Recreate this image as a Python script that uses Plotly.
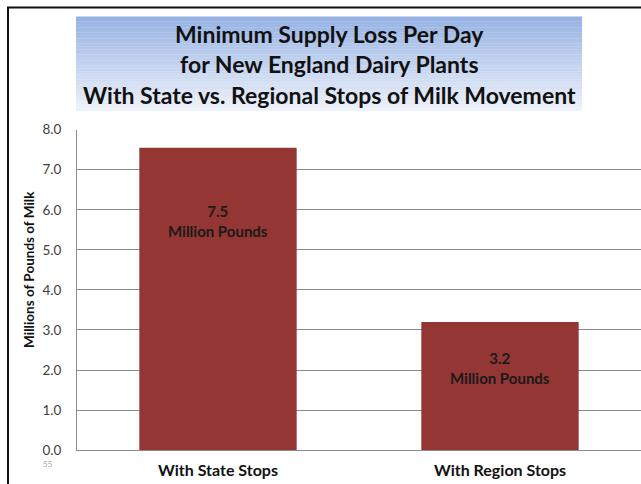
import plotly.graph_objects as go

categories = ["With State Stops", "With Region Stops"]
values = [7.55, 3.2]
value_labels = ["7.5", "3.2"]
label_unit = "Million Pounds"
label_y = [5.72, 2.05]
y_ticks = [0, 1, 2, 3, 4, 5, 6, 7, 8]
y_tick_text = ["0.0", "1.0", "2.0", "3.0", "4.0", "5.0", "6.0", "7.0", "8.0"]
title_lines = ["Minimum Supply Loss Per Day",
               "for New England Dairy Plants",
               "With State vs. Regional Stops of Milk Movement"]
y_title = "Millions of Pounds of Milk"
slide_no = "55"

W, H = 641, 484
FONT = "Lato"
# pixel -> paper (vertical mapping calibrated to the rendered page)
A_, B_ = 474.8, 467.3
px = lambda x: x / W
py = lambda y: (A_ - y) / B_

fig = go.Figure()
fig.add_trace(go.Bar(
    x=categories, y=values,
    marker=dict(color="#943634", line=dict(width=0)),
    hoverinfo="skip",
))

shapes = []
# gradient title box
top_c = (150, 178, 227)
bot_c = (236, 241, 250)
y0, y1 = 16, 110
N = 60
for i in range(N):
    t = i / (N - 1)
    c = tuple(int(round(top_c[k] + (bot_c[k] - top_c[k]) * t)) for k in range(3))
    ya = y0 + (y1 - y0) * i / N
    yb = y0 + (y1 - y0) * (i + 1) / N + 0.3
    shapes.append(dict(type="rect", xref="paper", yref="paper",
                       x0=px(76), x1=px(582), y0=py(ya), y1=py(yb),
                       fillcolor="rgb(%d,%d,%d)" % c, line=dict(width=0), layer="below"))
# slide border
shapes.append(dict(type="rect", xref="paper", yref="paper",
                   x0=px(8), x1=px(660), y0=py(7), y1=py(520),
                   fillcolor="rgba(0,0,0,0)", line=dict(color="#111111", width=2)))

annotations = []
title_y = [33, 63, 94]
for line, yy in zip(title_lines, title_y):
    annotations.append(dict(text="<b>%s</b>" % line, xref="paper", yref="paper",
                            x=px(329), y=py(yy), xanchor="center", yanchor="middle",
                            showarrow=False, font=dict(family=FONT, size=23, color="#111111")))
for cat, lab, ly in zip(categories, value_labels, label_y):
    annotations.append(dict(text="<b>%s<br>%s</b>" % (lab, label_unit), x=cat, y=ly,
                            xref="x", yref="y", showarrow=False, align="center",
                            font=dict(family=FONT, size=15, color="#1a1a1a")))
annotations.append(dict(text="<b>%s</b>" % y_title, xref="paper", yref="paper",
                        x=px(29), y=py(269), textangle=-90, showarrow=False,
                        xanchor="center", yanchor="middle",
                        font=dict(family=FONT, size=13.5, color="#111111")))
annotations.append(dict(text=slide_no, xref="paper", yref="paper",
                        x=px(41), y=py(470), showarrow=False,
                        font=dict(family=FONT, size=8, color="#aaaaaa")))

fig.update_layout(
    width=W, height=H,
    margin=dict(l=0, r=0, t=0, b=0),
    paper_bgcolor="white", plot_bgcolor="white",
    showlegend=False,
    bargap=0.442,
    shapes=shapes,
    annotations=annotations,
    xaxis=dict(domain=[77 / W, 1], showgrid=False, showline=True,
               linecolor="#8c8c8c", linewidth=1, ticks="",
               tickfont=dict(family=FONT, size=16, color="#111111"),
               ticklabelstandoff=6,
               tickvals=categories, ticktext=["<b>%s</b>" % c for c in categories]),
    yaxis=dict(domain=[py(449), py(129)], range=[0, 8],
               tickvals=y_ticks, ticktext=y_tick_text,
               showgrid=True, gridcolor="#8c8c8c", gridwidth=1,
               showline=True, linecolor="#8c8c8c", linewidth=1,
               zeroline=False, ticks="",
               ticklabelstandoff=12,
               tickfont=dict(family=FONT, size=13.5, color="#404040")),
)

post = (
    "document.documentElement.style.margin='0';"
    "document.body.style.margin='0';document.body.style.overflow='hidden';"
    "var d=document.getElementsByClassName('plotly-graph-div')[0];"
    "d.style.position='fixed';d.style.top='0px';d.style.left='0px';"
)
fig.write_html("out.html", config={"responsive": False, "displayModeBar": False},
               post_script=post)
